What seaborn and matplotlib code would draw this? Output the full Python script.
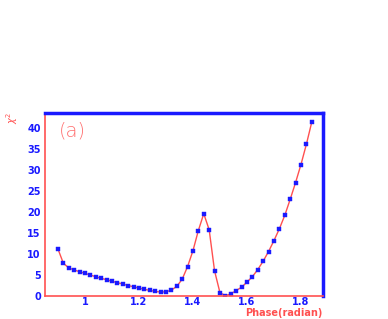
import matplotlib
matplotlib.use("Agg")
import matplotlib.pyplot as plt
import seaborn as sns
import pandas as pd
from matplotlib.ticker import MultipleLocator

# DATA
phase = [0.90, 0.92, 0.94, 0.96, 0.98, 1.00, 1.02, 1.04, 1.06, 1.08,
         1.10, 1.12, 1.14, 1.16, 1.18, 1.20, 1.22, 1.24, 1.26, 1.28,
         1.30, 1.32, 1.34, 1.36, 1.38, 1.40, 1.42, 1.44, 1.46, 1.48,
         1.50, 1.52, 1.54, 1.56, 1.58, 1.60, 1.62, 1.64, 1.66, 1.68,
         1.70, 1.72, 1.74, 1.76, 1.78, 1.80, 1.82, 1.84]
chi2 = [11.2, 7.8, 6.7, 6.2, 5.8, 5.4, 5.0, 4.6, 4.2, 3.9,
        3.5, 3.2, 2.85, 2.5, 2.2, 1.9, 1.6, 1.35, 1.1, 0.95,
        1.0, 1.4, 2.3, 4.0, 7.0, 10.8, 15.6, 19.6, 15.8, 6.0,
        0.8, 0.1, 0.5, 1.3, 2.1, 3.3, 4.6, 6.3, 8.3, 10.6,
        13.2, 16.0, 19.2, 23.0, 27.0, 31.3, 36.1, 41.4]
xticks = [1, 1.2, 1.4, 1.6, 1.8]
xtick_labels = ["1", "1.2", "1.4", "1.6", "1.8"]
yticks = [0, 5, 10, 15, 20, 25, 30, 35, 40]

df = pd.DataFrame({"phase": phase, "chi2": chi2})

sns.set_style("white")
plt.rcParams['font.family'] = ['DejaVu Sans']

RED = "#ff5050"
BLUE = "#1a1aff"

fig = plt.figure(figsize=(3.88, 3.19), dpi=100)
ax = fig.add_axes([0.116, 0.072, 0.716, 0.574])

sns.lineplot(data=df, x="phase", y="chi2", ax=ax, color=RED, lw=1.0,
             marker="s", markersize=2.5, markerfacecolor=BLUE,
             markeredgecolor=BLUE, markeredgewidth=0.3)

ax.set_xlim(0.852, 1.881)
ax.set_ylim(0, 43.6)
ax.set_xticks(xticks)
ax.set_xticklabels(xtick_labels)
ax.set_yticks(yticks)
ax.xaxis.set_minor_locator(MultipleLocator(0.04))
ax.yaxis.set_minor_locator(MultipleLocator(1))
ax.tick_params(axis="both", which="major", direction="in", length=4,
               width=0.6, color="#a0a8e0", labelcolor=BLUE, labelsize=7)
ax.tick_params(axis="x", which="major", pad=1.0)
ax.tick_params(axis="y", which="major", pad=3)
ax.tick_params(axis="both", which="minor", direction="in", length=2,
               width=0.5, color="#b8c0e8")
for lab in ax.get_xticklabels() + ax.get_yticklabels():
    lab.set_fontweight("bold")

ax.set_xlabel("")
ax.set_ylabel("")

## FRAME
ax.spines["left"].set_color(RED)
ax.spines["left"].set_linewidth(1.2)
ax.spines["bottom"].set_color(RED)
ax.spines["bottom"].set_linewidth(1.2)
ax.spines["top"].set_color(BLUE)
ax.spines["top"].set_linewidth(2.5)
ax.spines["right"].set_color(BLUE)
ax.spines["right"].set_linewidth(2.5)

## TEXTS
fig.text(0.032, 0.63, r"$\chi^2$", color=RED, rotation=90, fontsize=7,
         ha="center", va="center")
ax.text(0.05, 0.9, "(a)", transform=ax.transAxes, color="#ff7070",
        fontsize=14, fontweight="light", ha="left", va="center")
ax.text(1.0, -0.092, "Phase(radian)", transform=ax.transAxes, color=RED,
        fontsize=7, fontweight="bold", ha="right", va="center")

plt.savefig("out.png", dpi=100)
